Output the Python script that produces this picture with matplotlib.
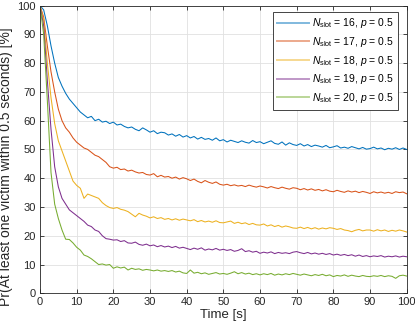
import numpy as np
import matplotlib
matplotlib.use("Agg")
import matplotlib.pyplot as plt
from matplotlib.colors import to_rgb

plt.rcParams['font.family'] = ['Liberation Sans', 'DejaVu Sans']
plt.rcParams['mathtext.fontset'] = 'custom'
plt.rcParams['mathtext.rm'] = 'Liberation Sans'
plt.rcParams['mathtext.it'] = 'Liberation Sans:italic'

# time axis [s], one sample per second
time = np.arange(0, 101)

n_slot = [16, 17, 18, 19, 20]
p_val = 0.5

pr_16 = [100, 98.5, 93, 86, 80, 75, 72, 69.5, 67.5, 66, 64.5, 63, 62, 61, 61.5, 60, 60.5, 59.5, 59.8, 59,
         59.5, 58.5, 58.8, 58, 57.5, 57.8, 57, 56.5, 57.5, 56.8, 56, 56.5, 55.5, 56, 55.8, 55, 55.4, 54.6, 55.2, 54.3,
         54.8, 54, 54.5, 53.6, 54.2, 53.5, 53.8, 53.2, 54, 53, 53.4, 52.6, 53.2, 52.8, 52.4, 53, 52.5, 52.2, 53.1, 52.4,
         52.7, 52, 52.5, 53, 52.1, 51.8, 52.6, 51.5, 52.3, 51.7, 51.4, 52, 51.2, 51.7, 51, 51.5, 51.2, 50.8, 51.4, 50.6,
         50.9, 51.3, 50.5, 50.8, 50.4, 51, 50.6, 50.2, 50.7, 50.1, 50.3, 50.8, 50.2, 50.5, 49.9, 50.4, 50.1, 50.6, 50,
         50.5, 50]
pr_17 = [100, 96, 86, 77, 70, 64, 60, 57.5, 56, 54, 52.5, 51.5, 50.5, 50, 49, 48, 47.5, 46.5, 45.5, 44,
         43.5, 43.8, 43, 43.2, 42.5, 42.8, 42.2, 41.8, 42, 41.3, 41.1, 41.6, 40.5, 41, 40.4, 40.6, 40, 40.4, 39.7, 40.2,
         39.8, 39.2, 39.7, 38.9, 38.4, 39.2, 38.6, 38.2, 38.7, 37.9, 37.6, 37.9, 37.4, 37.7, 37.3, 37.5, 37.1, 37.6, 37.2,
         36.9, 37.3, 37, 36.6, 37.1, 36.7, 36.4, 36.9, 36.5, 36.2, 36.7, 36.5, 36, 36.4, 35.9, 36.3, 35.8, 36.1, 35.6, 36,
         35.5, 35.3, 35.8, 35.4, 35.1, 35.6, 35.2, 35.5, 35, 35.4, 35.1, 34.7, 35.3, 34.9, 35.2, 34.8, 35.1, 34.7, 35.3,
         35, 35.2, 34.6]
pr_18 = [100, 95, 80, 68, 59, 53, 49.5, 46, 42.5, 39, 37.5, 36.5, 33, 34.5, 34, 33.5, 33, 31.5, 30.5, 29.8,
         29.5, 29.8, 29.2, 28.9, 28.4, 27.5, 26.6, 27.8, 27.2, 26.8, 26.2, 26.6, 26, 26.3, 25.7, 26, 25.5, 25.9, 25.4,
         25.8, 25.5, 25.2, 25.6, 24.9, 25.3, 24.8, 25.1, 24.7, 25.2, 24.6, 24.5, 24.8, 25.1, 24.3, 24.7, 24.2, 24.5, 23.9,
         24.3, 23.8, 23.7, 24.1, 23.4, 23.8, 23.2, 23.6, 23, 23.4, 23.1, 22.7, 22.6, 23, 22.5, 22.9, 22.4, 22.8, 22.3,
         22.7, 22.4, 22.8, 22.6, 22.2, 22.5, 22, 21.8, 21.4, 21.9, 22.2, 21.7, 22, 22, 21.6, 22.1, 21.7, 22, 21.5, 21.9,
         21.6, 22, 21.7, 21.3]
pr_19 = [100, 93, 74, 57, 44, 37, 33, 31, 29, 28, 27, 26, 25, 23.7, 23.2, 22, 21.5, 20, 19, 18.8,
         18.5, 18.6, 18, 18.3, 17.5, 17.4, 17.8, 17, 16.7, 17.1, 16.5, 16.8, 16.2, 16.6, 16.1, 16.4, 15.9, 16.3, 15.7, 16,
         15.6, 15.2, 15.7, 15.3, 15.8, 15, 15.4, 15.1, 15.6, 15, 15.3, 14.9, 15.2, 14.6, 14.9, 15.5, 14.5, 14.8, 14.3,
         14.6, 13.9, 14.3, 14, 14.4, 13.8, 14.2, 13.9, 14.1, 13.8, 14.3, 14.5, 14.1, 13.8, 14.2, 13.7, 14, 13.6, 13.9,
         13.5, 13.8, 13.3, 13.6, 13.2, 13.5, 13.1, 13.4, 12.9, 13.3, 12.8, 13.1, 12.7, 13, 12.8, 13.1, 12.6, 12.9, 12.7,
         13, 12.6, 12.9, 12.7]
pr_20 = [100, 90, 67, 42, 31, 26, 22, 18.8, 18.7, 17.5, 16, 15, 13.3, 12.8, 12, 11, 10, 10.2, 9.8, 10,
         8.7, 9.2, 8.8, 9.1, 8.1, 8.7, 8.3, 8.5, 8, 8.3, 8.1, 7.8, 8.1, 7.7, 7.9, 7.6, 7.9, 7.4, 7.7, 7.1,
         6.9, 8.1, 7, 7.3, 6.8, 7.1, 6.6, 6.9, 7.2, 6.7, 6.9, 6.6, 7, 7.5, 6.8, 7.2, 6.7, 7, 6.5, 6.8,
         6.4, 6.8, 6.5, 6.9, 6.3, 6.7, 6.4, 6.8, 6.5, 6.9, 6.6, 6.3, 6.7, 6.4, 6.1, 6.5, 6.2, 6.6, 6.1, 6.4,
         5.8, 6.2, 6, 6.4, 5.9, 6.3, 6, 5.8, 6.2, 5.9, 5.8, 6.1, 5.9, 6.2, 5.8, 6.1, 5.9, 5.2, 6.1, 6.3, 6]

series = [pr_16, pr_17, pr_18, pr_19, pr_20]
colors = ['#0072BD', '#D95319', '#EDB120', '#7E2F8E', '#77AC30']

fig = plt.figure(figsize=(4.15, 3.29), dpi=100)
ax = fig.add_axes([0.0964, 0.1085, 0.8836, 0.8745])

for n, vals, c in zip(n_slot, series, colors):
    ax.plot(time, vals, color=c, linewidth=0.75,
            label=r'$N_{\rm slot}$ = %d, $p$ = %g' % (n, p_val))

ax.set_xlim(0, 100)
ax.set_ylim(0, 100)
ax.set_xticks(np.arange(0, 101, 10))
ax.set_yticks(np.arange(0, 101, 10))
ax.grid(True, color='#e1e1e1', linewidth=0.6)
ax.set_axisbelow(True)
ax.tick_params(direction='in', top=True, right=True, labelsize=8, length=3,
               width=0.6, colors='#262626', pad=3)
for sp in ax.spines.values():
    sp.set_color('#262626')
    sp.set_linewidth(0.6)

ax.set_xlabel('Time [s]', fontsize=9.5, color='#262626', labelpad=1)
ax.set_ylabel('Pr(At least one victim within 0.5 seconds) [%]', fontsize=10,
              color='#262626')
ax.yaxis.set_label_coords(-0.073, 0.44)

leg = ax.legend(loc='upper right', bbox_to_anchor=(0.977, 0.979), borderaxespad=0,
                fontsize=7.5, fancybox=False, framealpha=1, edgecolor='#262626',
                handlelength=3.0, labelspacing=0.45, handletextpad=0.3, borderpad=0.45)
leg.get_frame().set_linewidth(0.6)
for h, c in zip(leg.get_lines(), colors):
    soft = [0.5 * v + 0.5 for v in to_rgb(c)]
    h.set_color(soft)
    h.set_linewidth(1.4)

fig.savefig('out.png', dpi=100)
